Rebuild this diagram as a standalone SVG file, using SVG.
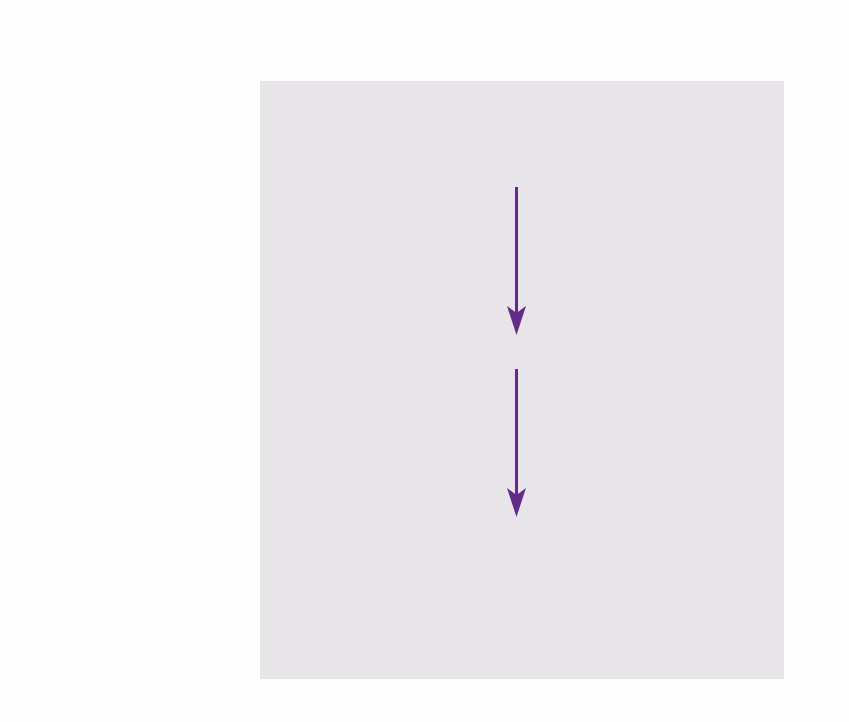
<svg xmlns="http://www.w3.org/2000/svg" width="849" height="722" viewBox="0 0 849 722">
<style>
.bg{fill:#e7e5e8}
.conn{stroke:#622b8a;stroke-width:3;fill:none}
.head{fill:#622b8a}
</style>
<defs>
<marker id="arr" markerUnits="userSpaceOnUse" markerWidth="30" markerHeight="20" refX="8" refY="10" orient="auto" overflow="visible">
<path class="head" d="M0,0.5 L29,10 L0,19.5 L7,10 Z"/>
</marker>
</defs>
<rect x="0" y="0" width="849" height="722" fill="#fefefe"/>
<g id="panel"><rect class="bg" x="260" y="81" width="524" height="598"/></g>
<g id="connectors">
<line class="conn" x1="516.5" y1="187" x2="516.5" y2="314" marker-end="url(#arr)"/>
<line class="conn" x1="516.5" y1="369" x2="516.5" y2="496" marker-end="url(#arr)"/>
</g>
</svg>
